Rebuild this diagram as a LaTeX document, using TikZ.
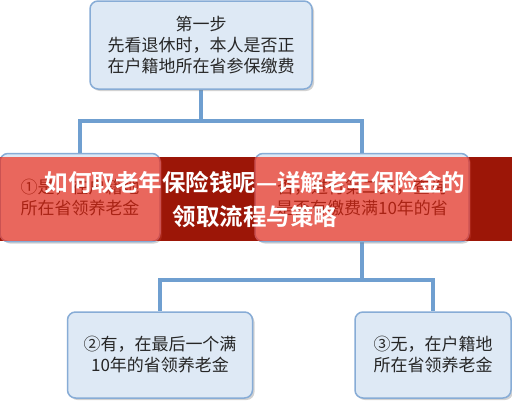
\documentclass[tikz,border=0pt]{standalone}
\usepackage{fontspec}
\newfontfamily\cjk[BoldFont={Noto Sans CJK SC Bold}]{Noto Sans CJK SC}
\usetikzlibrary{shadows}
\pgfdeclarelayer{fondo}
\pgfdeclarelayer{lineas}
\pgfsetlayers{fondo,lineas,main}

\begin{document}
\begin{tikzpicture}[
    x=1pt, y=-1pt,
    % Estilo para las cajas del diagrama
    caja/.style={
        draw=cajaborde, fill=cajafondo, line width=1.5pt,
        rounded corners=8pt, align=center, text=black!85,
        font=\cjk\fontsize{17}{21}\selectfont,
        drop shadow={shadow xshift=2pt, shadow yshift=-2pt, opacity=0.35}
    },
    % Estilo para los conectores
    conector/.style={draw=lineaazul, line width=4pt}
]
    % Configuración de colores
    \definecolor{cajafondo}{RGB}{222, 233, 245}
    \definecolor{cajaborde}{RGB}{135, 172, 214}
    \definecolor{lineaazul}{RGB}{111, 159, 208}
    \definecolor{rojobanda}{RGB}{240, 34, 12}

    % Marco de la imagen
    \useasboundingbox (0,0) rectangle (512,400);

    % Cajas del diagrama
    \node[caja, minimum width=222pt, minimum height=88pt] (paso1) at (201,45)
        {第一步\\先看退休时，本人是否正\\在户籍地所在省参保缴费};
    \node[caja, minimum width=160pt, minimum height=88pt] (opcion1) at (80,197.5)
        {①是，在户籍地\\所在省领养老金};
    \node[caja, minimum width=214pt, minimum height=88pt] (paso2) at (362,197.5)
        {否，进行第二步，查询\\是否有缴费满10年的省};
    \node[caja, minimum width=185pt, minimum height=86pt] (opcion2) at (160,355)
        {②有，在最后一个满\\10年的省领养老金};
    \node[caja, minimum width=156pt, minimum height=86pt] (opcion3) at (433,355)
        {③无，在户籍地\\所在省领养老金};

    % Conectores entre cajas
    \begin{pgfonlayer}{lineas}
        \coordinate (rama1) at (201,121);
        \draw[conector] (paso1.south) -- (rama1) -| (opcion1.north);
        \draw[conector] (rama1) -| (paso2.north);
        \coordinate (rama2) at (362,280);
        \draw[conector] (paso2.south) -- (rama2) -| (opcion2.north);
        \draw[conector] (rama2) -| (opcion3.north);
    \end{pgfonlayer}

    % Fondo: blanco fuera de la banda, negro bajo la banda
    \begin{pgfonlayer}{fondo}
        \fill[white] (0,0) rectangle (512,400);
        \fill[black] (0,157) rectangle (512,241);
    \end{pgfonlayer}

    % Banda roja translúcida con el título
    \fill[rojobanda, opacity=0.65] (0,157) rectangle (512,241);
    \node[font=\cjk\bfseries\fontsize{23.5}{34}\selectfont, text=white, align=center]
        (titulo) at (255,200) {如何取老年保险钱呢—详解老年保险金的\\领取流程与策略};

\end{tikzpicture}
\end{document}
